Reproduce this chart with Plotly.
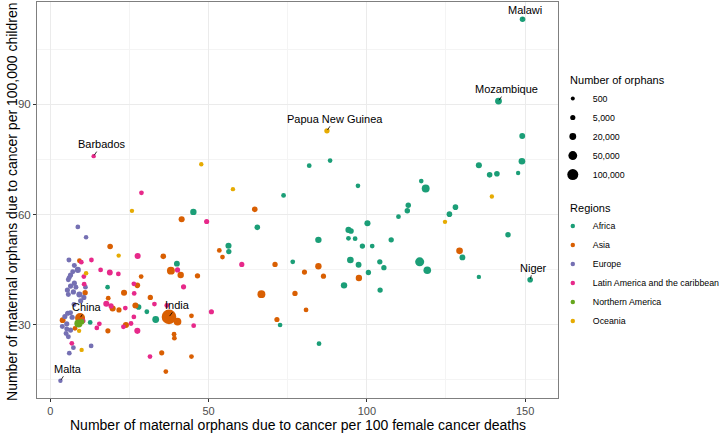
import plotly.graph_objects as go
import numpy as np

# ---------------- data ----------------
africa_x = [149.2, 141.6, 149.1, 149.0, 135.4, 138.8, 141.1, 147.8, 128.0, 126.1, 144.6, 130.2, 135.4, 151.6,
            81.8, 88.4, 97.2, 117.2, 118.6, 113.1, 112.8, 110.0, 100.2, 94.2, 95.0, 84.7, 94.2, 96.3, 98.6,
            101.7, 107.7, 94.8, 97.4, 104.1, 105.4, 100.5, 116.7, 119.1, 92.8, 104.2, 84.9, 76.6, 73.7, 45.2,
            65.4, 56.3, 56.4, 40.0, 72.6, 33.3, 30.5, 27.9, 18.1, 12.6]
africa_y = [113.2, 90.9, 81.4, 74.5, 73.4, 70.8, 71.1, 71.3, 62.0, 60.1, 54.5, 48.3, 43.0, 42.2,
            73.3, 74.7, 67.8, 69.1, 67.1, 62.5, 61.0, 59.4, 57.6, 55.8, 55.5, 53.1, 53.5, 53.4, 51.4,
            51.4, 53.1, 47.6, 46.3, 47.1, 45.5, 44.2, 47.1, 44.8, 40.7, 39.4, 24.8, 47.1, 65.2, 60.7,
            56.5, 51.5, 49.9, 46.6, 29.9, 31.4, 33.5, 34.8, 40.2, 30.6]
africa_n = [8000, 20000, 10000, 18000, 12000, 8000, 8000, 1500, 8000, 8000, 7000, 10000, 1500, 8000,
            3000, 2500, 2500, 2500, 35000, 7000, 7000, 3000, 12000, 12000, 8000, 15000, 3000, 3000, 6000,
            3000, 6000, 18000, 10000, 6000, 6000, 6000, 55000, 30000, 15000, 6000, 3000, 3000, 3000, 15000,
            8000, 12000, 6000, 10000, 2500, 20000, 3000, 8000, 2500, 3000]

asia_x = [37.5, 9.4, 3.9, 7.8, 11.0, 18.9, 9.2, 35.7, 38.1, 41.2, 46.5, 41.5, 64.6, 53.4, 54.4, 71.0,
          66.7, 77.3, 28.7, 23.3, 27.5, 18.3, 19.7, 21.7, 26.9, 31.6, 23.9, 18.2, 40.2, 44.6, 39.1, 39.2,
          35.2, 44.6, 36.5, 71.6, 84.7, 80.3, 86.3, 97.5, 80.8, 129.3]
asia_y = [32.1, 31.8, 31.2, 29.0, 38.7, 51.3, 47.4, 48.6, 44.7, 43.5, 43.3, 58.7, 61.4, 50.2, 48.4, 46.4,
          38.3, 38.5, 43.1, 38.7, 40.7, 37.2, 34.4, 34.0, 35.2, 37.4, 29.9, 28.3, 30.8, 32.4, 27.4, 26.3,
          22.3, 21.3, 17.2, 31.4, 45.9, 44.3, 43.2, 42.7, 34.0, 50.1]
asia_n = [220000, 75000, 10000, 3000, 6000, 8000, 3000, 8000, 35000, 15000, 6000, 12000, 8000, 3000, 3000, 6000,
          35000, 6000, 3000, 12000, 8000, 3000, 12000, 5000, 12000, 6000, 12000, 5000, 30000, 3000, 3000, 3000,
          5000, 3000, 3000, 5000, 15000, 5000, 5000, 15000, 3000, 18000]

europe_x = [8.7, 11.3, 5.9, 7.6, 8.7, 7.1, 6.4, 6.0, 5.7, 7.6, 6.4, 8.1, 5.4, 5.7, 7.3, 11.1, 9.2, 10.6,
            9.6, 4.6, 5.5, 6.4, 6.9, 5.2, 5.2, 5.0, 6.4, 5.7, 12.9, 7.3, 6.0, 3.2, 7.5, 3.8]
europe_y = [56.6, 53.8, 47.6, 46.1, 44.9, 44.4, 43.5, 42.8, 42.2, 41.3, 40.5, 40.2, 39.4, 38.2, 38.9, 40.2,
            38.2, 37.4, 36.5, 32.2, 33.1, 33.2, 32.0, 30.2, 28.8, 27.6, 28.5, 26.7, 24.2, 23.7, 22.2, 14.7,
            35.5, 29.5]
europe_n = [3000, 2000, 4000, 4000, 12000, 4000, 5000, 4000, 4000, 5000, 5000, 4000, 5000, 4000, 5000, 3000,
            12000, 5000, 5000, 5000, 5000, 4000, 5000, 5000, 4000, 4000, 5000, 4000, 3000, 3000, 3000, 1500,
            4000, 4000]

latam_x = [13.7, 28.8, 27.6, 13.0, 9.8, 10.6, 15.9, 18.8, 21.5, 10.7, 26.5, 26.4, 17.7, 19.2, 23.7, 32.9,
           26.4, 27.5, 23.1, 25.5, 15.5, 14.7, 31.5, 6.8, 10.4, 49.4, 60.5, 40.2, 42.1, 36.8, 50.9, 45.3]
latam_y = [75.9, 65.9, 48.7, 47.6, 47.0, 43.1, 44.9, 44.2, 43.8, 41.0, 38.5, 41.1, 35.7, 35.1, 34.5, 35.6,
           32.1, 28.3, 29.4, 30.3, 30.2, 29.1, 21.3, 24.9, 31.0, 58.1, 46.4, 44.9, 40.3, 35.2, 33.5, 29.7]
latam_n = [1500, 3000, 12000, 3000, 3000, 3000, 3000, 10000, 3000, 3000, 3000, 3000, 12000, 5000, 3000, 3000,
           3000, 12000, 3000, 3000, 3000, 3000, 3000, 3000, 3000, 5000, 5000, 5000, 5000, 3000, 5000, 3000]

namerica_x = [10.0, 8.9]
namerica_y = [30.8, 30.3]
namerica_n = [5000, 40000]

oceania_x = [87.4, 25.8, 21.6, 11.3, 9.1, 9.9, 47.7, 57.7, 124.7, 139.5]
oceania_y = [82.8, 61.0, 48.8, 44.0, 28.3, 23.1, 73.7, 66.9, 58.0, 64.9]
oceania_n = [6000, 1500, 1500, 2000, 1500, 1500, 1500, 1500, 1500, 1500]

regions = ["Africa", "Asia", "Europe", "Latin America and the caribbean", "Northern America", "Oceania"]
region_colors = ["#1B9E77", "#D95F02", "#7570B3", "#E7298A", "#66A61E", "#E6AB02"]
size_breaks = [500, 5000, 20000, 50000, 100000]
size_labels = ["500", "5,000", "20,000", "50,000", "100,000"]

label_names = ["Malawi", "Mozambique", "Niger", "Papua New Guinea", "Barbados", "China", "India", "Malta"]
label_x = [149.2, 141.6, 151.6, 87.4, 13.7, 9.4, 37.5, 3.2]
label_y = [113.2, 90.9, 42.2, 82.8, 75.9, 31.8, 32.1, 14.7]

x_title = "Number of maternal orphans due to cancer per 100 female cancer deaths"
y_title = "Number of maternal orphans due to cancer per 100,000 children"

# ---------------- figure ----------------
def diam(n):
    return 3.47 + 7.53 * np.sqrt(np.asarray(n, dtype=float) / 100000.0)

series = [
    (africa_x, africa_y, africa_n),
    (asia_x, asia_y, asia_n),
    (europe_x, europe_y, europe_n),
    (latam_x, latam_y, latam_n),
    (namerica_x, namerica_y, namerica_n),
    (oceania_x, oceania_y, oceania_n),
]

fig = go.Figure()
for (xs, ys, ns), reg, col in zip(series, regions, region_colors):
    fig.add_trace(go.Scatter(
        x=xs, y=ys, mode="markers", name=reg, showlegend=False,
        marker=dict(color=col, size=diam(ns), line=dict(width=0), opacity=1),
        hovertemplate=reg + "<br>%{x}, %{y}<extra></extra>"))

# size legend
for b, lab in zip(size_breaks, size_labels):
    fig.add_trace(go.Scatter(
        x=[None], y=[None], mode="markers", name=lab, legend="legend",
        marker=dict(color="black", size=float(diam(b)))))
# region legend
for reg, col in zip(regions, region_colors):
    fig.add_trace(go.Scatter(
        x=[None], y=[None], mode="markers", name=reg, legend="legend2",
        marker=dict(color=col, size=4.5)))

offsets = {"Malawi": (2, -9), "Mozambique": (8, -12), "Niger": (3, -12), "Papua New Guinea": (8, -12),
           "Barbados": (8, -12), "China": (7, -11), "India": (9, -12), "Malta": (8, -12)}
for nm, lx, ly in zip(label_names, label_x, label_y):
    ax, ay = offsets[nm]
    fig.add_annotation(x=lx, y=ly, text=nm, showarrow=True, arrowhead=0, arrowwidth=0.8,
                       arrowcolor="black", ax=ax, ay=ay, standoff=1,
                       font=dict(size=11, color="black", family="Liberation Sans"))

# axis titles
fig.add_annotation(xref="paper", yref="paper", x=0.5, y=-0.067, text=x_title, showarrow=False,
                   xanchor="center", yanchor="middle", font=dict(size=14, color="black"))
fig.add_annotation(xref="paper", yref="paper", x=-0.048, y=0.495, text=y_title, showarrow=False,
                   textangle=-90, xanchor="center", yanchor="middle", font=dict(size=14, color="black"))

grid_major = "#EBEBEB"
grid_minor = "#F4F4F4"
nb = "\u00a0"
fig.update_layout(
    width=720, height=434,
    margin=dict(l=37, r=162, t=2, b=36, autoexpand=False),
    paper_bgcolor="white", plot_bgcolor="white",
    font=dict(family="Liberation Sans", color="black"),
    xaxis=dict(
        range=[-4.2, 160.4], tickvals=[0, 50, 100, 150], ticks="outside", ticklen=3, tickcolor="#333333",
        tickfont=dict(size=11, color="#4D4D4D"),
        showgrid=True, gridcolor=grid_major, gridwidth=1,
        minor=dict(tickvals=[25, 75, 125], showgrid=True, gridcolor=grid_minor, gridwidth=0.6, ticks=""),
        zeroline=False, showline=True, linecolor="#7F7F7F", linewidth=1, mirror=True,
        automargin=False),
    yaxis=dict(
        range=[10.0, 117.9], tickvals=[30, 60, 90], ticks="outside", ticklen=3, tickcolor="#333333",
        tickfont=dict(size=11.5, color="#4D4D4D"),
        showgrid=True, gridcolor=grid_major, gridwidth=1,
        minor=dict(tickvals=[15, 45, 75, 105], showgrid=True, gridcolor=grid_minor, gridwidth=0.6, ticks=""),
        zeroline=False, showline=True, linecolor="#7F7F7F", linewidth=1, mirror=True,
        automargin=False),
    legend=dict(x=0.99, y=0.829, xanchor="left", yanchor="top", itemsizing="trace",
                title=dict(text=nb * 5 + "Number of orphans", font=dict(size=11)),
                font=dict(size=8.8), bgcolor="rgba(0,0,0,0)", tracegroupgap=0),
    legend2=dict(x=0.99, y=0.507, xanchor="left", yanchor="top", itemsizing="trace",
                 title=dict(text=nb * 5 + "Regions", font=dict(size=11)),
                 font=dict(size=8.8), bgcolor="rgba(0,0,0,0)", tracegroupgap=0),
)

fig.write_html("out.html", config={"displayModeBar": False},
               post_script="document.body.style.margin='0px';document.body.style.padding='0px';")
